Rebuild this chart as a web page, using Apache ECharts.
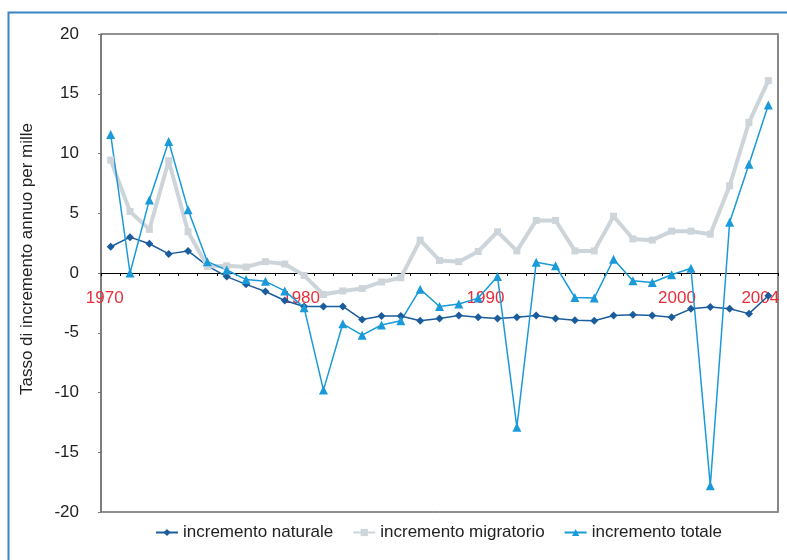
<!DOCTYPE html>
<html>
<head>
<meta charset="utf-8">
<script src="https://cdn.jsdelivr.net/npm/echarts@6/dist/echarts.min.js"></script>
<style>
html,body{margin:0;padding:0;background:#fff;}
#chart{width:787px;height:560px;}
</style>
</head>
<body>
<div id="chart"></div>
<script>
// ---- data ----
const years = ['1970','1971','1972','1973','1974','1975','1976','1977','1978','1979',
  '1980','1981','1982','1983','1984','1985','1986','1987','1988','1989',
  '1990','1991','1992','1993','1994','1995','1996','1997','1998','1999',
  '2000','2001','2002','2003','2004'];
const incrementoNaturale = [2.2, 3.0, 2.45, 1.6, 1.85, 0.6, -0.3, -0.95, -1.55, -2.3,
  -2.8, -2.8, -2.8, -3.9, -3.6, -3.6, -4.0, -3.8, -3.55, -3.7,
  -3.8, -3.7, -3.55, -3.8, -3.95, -4.0, -3.55, -3.5, -3.55, -3.7,
  -3.0, -2.85, -3.0, -3.4, -1.9];
const incrementoMigratorio = [9.45, 5.15, 3.65, 9.4, 3.45, 0.55, 0.6, 0.5, 0.95, 0.75,
  -0.2, -1.8, -1.5, -1.3, -0.75, -0.4, 2.75, 1.05, 0.95, 1.8,
  3.45, 1.85, 4.4, 4.4, 1.85, 1.85, 4.75, 2.85, 2.75, 3.5,
  3.5, 3.25, 7.3, 12.6, 16.1];
const incrementoTotale = [11.6, 0.0, 6.1, 11.0, 5.3, 0.95, 0.25, -0.55, -0.7, -1.5,
  -2.9, -9.8, -4.25, -5.2, -4.35, -4.0, -1.35, -2.8, -2.6, -2.1,
  -0.3, -12.9, 0.9, 0.6, -2.05, -2.1, 1.15, -0.65, -0.8, -0.15,
  0.4, -17.8, 4.25, 9.1, 14.05];
const shownYears = ['1970','1980','1990','2000','2004'];
const seriesNames = ['incremento naturale','incremento migratorio','incremento totale'];
const yAxisTitle = 'Tasso di incremento annuo per mille';

// ---- chart ----
const FONT = '"Liberation Sans", Arial, sans-serif';
const GRID = {left:101, right:9, top:34, bottom:48};
const plotHeight = 560 - GRID.top - GRID.bottom;
const labelPad = {'1970':12,'1980':6,'1990':24,'2000':28,'2004':16};
const rich = {};
Object.keys(labelPad).forEach(k => {
  rich['y' + k] = {color:'#e8303a', fontSize:17, fontFamily:FONT, padding:[0, labelPad[k], 0, 0]};
});

const chart = echarts.init(document.getElementById('chart'), null, {renderer:'canvas'});
chart.setOption({
  animation:false,
  backgroundColor:'#ffffff',
  textStyle:{fontFamily:FONT},
  graphic:[{
    type:'rect', left:6, top:10, silent:true, z:-10,
    shape:{width:820, height:600},
    style:{fill:'none', stroke:'#3a84c4', lineWidth:2}
  }],
  grid:Object.assign({show:true, borderColor:'#222', borderWidth:1, backgroundColor:'transparent'}, GRID),
  legend:{
    left:150, top:519, itemWidth:22, itemHeight:9, itemGap:19,
    textStyle:{fontSize:17, color:'#222', fontFamily:FONT},
    data:seriesNames
  },
  xAxis:{
    type:'category', data:years, boundaryGap:true, position:'bottom', z:3,
    offset:-plotHeight / 2,
    axisLine:{onZero:false, lineStyle:{color:'#000', width:1}},
    axisTick:{show:true, interval:0, length:3, lineStyle:{color:'#000'}},
    axisLabel:{
      interval:(idx, val) => shownYears.indexOf(val) >= 0,
      margin:17,
      formatter:(val) => '{y' + val + '|' + val + '}',
      rich:rich
    },
    splitLine:{show:false}
  },
  yAxis:[{
    type:'value', min:-20, max:20, interval:5,
    name:yAxisTitle, nameLocation:'middle', nameGap:65, nameRotate:90,
    nameTextStyle:{fontSize:17, color:'#222', fontFamily:FONT, padding:[0,0,0,28]},
    axisLine:{show:true, lineStyle:{color:'#777', width:1.5}},
    axisTick:{show:true, length:3, lineStyle:{color:'#777'}},
    axisLabel:{fontSize:17, color:'#222', margin:22, fontFamily:FONT},
    splitLine:{show:false}
  },{
    type:'value', min:-20, max:20, interval:5, position:'right',
    axisLine:{show:true, lineStyle:{color:'#888', width:2}},
    axisTick:{show:false}, axisLabel:{show:false}, splitLine:{show:false}
  }],
  series:[{
    name:seriesNames[0], type:'line', data:incrementoNaturale,
    symbol:'diamond', symbolSize:8,
    lineStyle:{color:'#1b5c9c', width:1.5},
    itemStyle:{color:'#1b5c9c'}
  },{
    name:seriesNames[1], type:'line', data:incrementoMigratorio,
    symbol:'rect', symbolSize:7,
    lineStyle:{color:'#cdd5da', width:4},
    itemStyle:{color:'#cdd5da'}
  },{
    name:seriesNames[2], type:'line', data:incrementoTotale,
    symbol:'triangle', symbolSize:9,
    lineStyle:{color:'#1a9ad8', width:1.5},
    itemStyle:{color:'#1a9ad8'}
  }]
});
</script>
</body>
</html>
